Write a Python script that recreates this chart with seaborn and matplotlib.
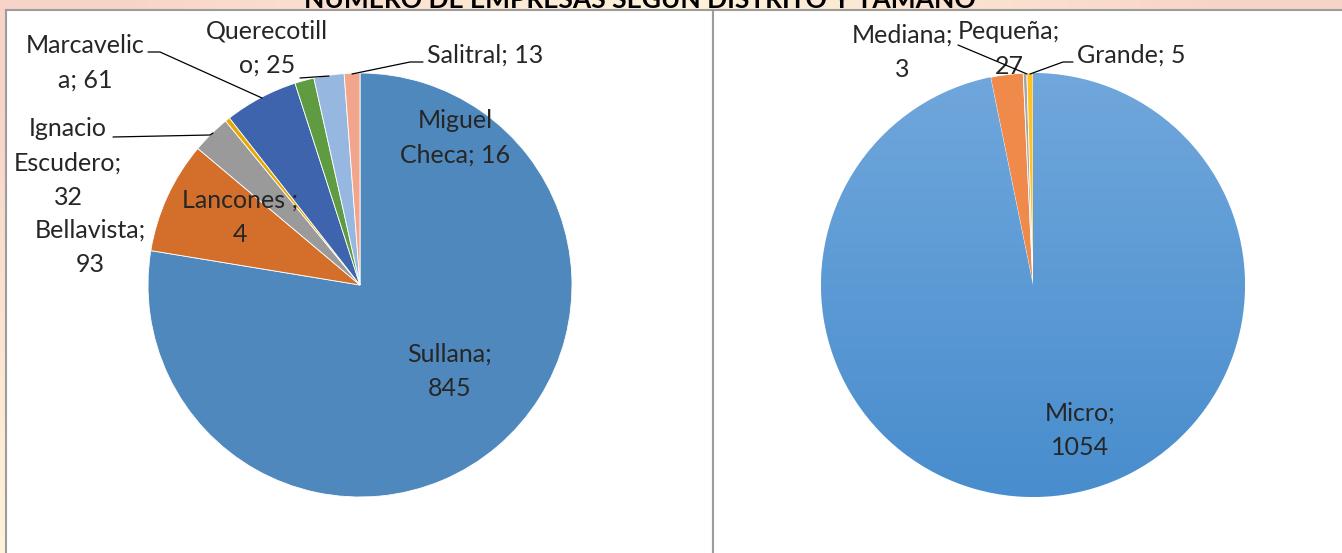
import numpy as np
import matplotlib.pyplot as plt
import seaborn as sns

# datos
distritos = ['Sullana', 'Bellavista', 'Ignacio Escudero', 'Lancones', 'Marcavelica',
             'Miguel Checa', 'Querecotillo', 'Salitral']
empresas_distrito = [845, 93, 32, 4, 61, 16, 25, 13]
etiquetas_distrito = ['Sullana;\n845', 'Bellavista;\n93', 'Ignacio\nEscudero;\n32', 'Lancones ;\n4',
                      'Marcavelic\na; 61', 'Miguel\nCheca; 16', 'Querecotill\no; 25', 'Salitral; 13']

tamanos = ['Micro', 'Pequeña', 'Mediana', 'Grande']
empresas_tamano = [1054, 27, 3, 5]
etiquetas_tamano = ['Micro;\n1054', 'Pequeña;\n27', 'Mediana;\n3', 'Grande; 5']

titulo = 'NÚMERO DE EMPRESAS SEGÚN DISTRITO Y TAMAÑO'

colores_distrito = ['#4F88BC', '#D46F2B', '#9A9A9A', '#E5A800', '#3D64AD',
                    '#5F9B40', '#96B8E0', '#F1A68B']
colores_tamano = ['#5B9BD9', '#EF8A4A', '#A5A5A5', '#FFC125']

sns.set_theme(style='white')
plt.rcParams['font.family'] = ['Lato', 'DejaVu Sans']

W, H = 1342, 553
fig = plt.figure(figsize=(W / 100, H / 100), dpi=100)

# fondo degradado
bg = fig.add_axes([0, 0, 1, 1], zorder=0)
xx, yy = np.meshgrid(np.linspace(0, 1, 200), np.linspace(0, 1, 100))
w = np.clip(np.abs(2 * xx - 1) * (1 - yy) * 1.2, 0, 1)[..., None]
rosa = np.array([248, 212, 200]) / 255
amarillo = np.array([255, 243, 218]) / 255
bg.imshow(amarillo * (1 - w) + rosa * w, aspect='auto', extent=[0, 1, 0, 1])
bg.axis('off')

fig.text(640 / W, 1 - 8 / H, titulo, ha='center', va='baseline',
         fontsize=19, fontweight='bold', color='black')


def panel(ax, x0, x1, cx, cy, r, y0=10):
    ax.set_frame_on(True)
    ax.set_aspect('auto')
    ax.set_facecolor('white')
    for s in ['left', 'right', 'top']:
        ax.spines[s].set_visible(True)
        ax.spines[s].set_color('#9C9C9C')
        ax.spines[s].set_linewidth(1.5)
    ax.spines['bottom'].set_visible(False)
    ax.set_xlim((x0 - cx) / r, (x1 - cx) / r)
    ax.set_ylim((cy - H - 3) / r, (cy - y0) / r)
    ax.set_xticks([])
    ax.set_yticks([])


def caja(x0, x1, y0=10):
    return fig.add_axes([x0 / W, -3 / H, (x1 - x0) / W, (H + 3 - y0) / H], zorder=1)


def px(cx, cy, r, x, y):
    return (x - cx) / r, (cy - y) / r


fs = 18
ls = 1.6

# pastel por distrito
cx1, cy1, r1 = 360, 285, 212
ax1 = caja(6, 713)
ax1.pie(empresas_distrito, colors=colores_distrito, startangle=90, counterclock=False,
        wedgeprops=dict(edgecolor='white', linewidth=0.6))
panel(ax1, 6, 713, cx1, cy1, r1)

pos1 = [(450, 371), (90, 247), (68, 163), (240, 217), (85, 63), (455, 138), (267, 48), (485, 55)]
for lab, (x, y) in zip(etiquetas_distrito, pos1):
    ax1.text(*px(cx1, cy1, r1, x, y), lab, ha='center', va='center', fontsize=fs,
             linespacing=ls)

lineas1 = [[(148, 52), (160, 52), (262, 98)],
           [(113, 137), (210, 135), (213, 133)],
           [(300, 78), (329, 76)],
           [(352, 74), (410, 62), (423, 62)]]
for ln in lineas1:
    pts = np.array([px(cx1, cy1, r1, x, y) for x, y in ln])
    ax1.plot(pts[:, 0], pts[:, 1], color='black', lw=0.9)

# pastel por tamaño
cx2, cy2, r2 = 1033, 285, 212
ax2 = caja(713, W + 3)
cunas, _ = ax2.pie(empresas_tamano, colors=colores_tamano, startangle=90, counterclock=False,
                   wedgeprops=dict(edgecolor='white', linewidth=0.6))
panel(ax2, 713, W + 3, cx2, cy2, r2)

# degradado vertical en la porción Micro
arriba = np.array([112, 167, 220]) / 255
abajo = np.array([72, 141, 205]) / 255
t = np.linspace(0, 1, 256)[:, None, None]
grad = arriba * (1 - t) + abajo * t
im = ax2.imshow(np.repeat(grad, 2, axis=1), extent=[-1, 1, -1, 1], aspect='auto', zorder=1.5)
im.set_clip_path(cunas[0])

pos2 = [(1080, 430), (1009, 49), (902, 52), (1131, 55)]
for lab, (x, y) in zip(etiquetas_tamano, pos2):
    ax2.text(*px(cx2, cy2, r2, x, y), lab, ha='center', va='center', fontsize=fs,
             linespacing=ls, zorder=3)

lineas2 = [[(958, 45), (1027, 74)],
           [(1030, 74), (1063, 62), (1073, 62)]]
for ln in lineas2:
    pts = np.array([px(cx2, cy2, r2, x, y) for x, y in ln])
    ax2.plot(pts[:, 0], pts[:, 1], color='black', lw=0.9, zorder=3)

ax2.set_xlim((713 - cx2) / r2, (W + 3 - cx2) / r2)
ax2.set_ylim((cy2 - H - 3) / r2, (cy2 - 10) / r2)

fig.savefig('out.png', dpi=100)
